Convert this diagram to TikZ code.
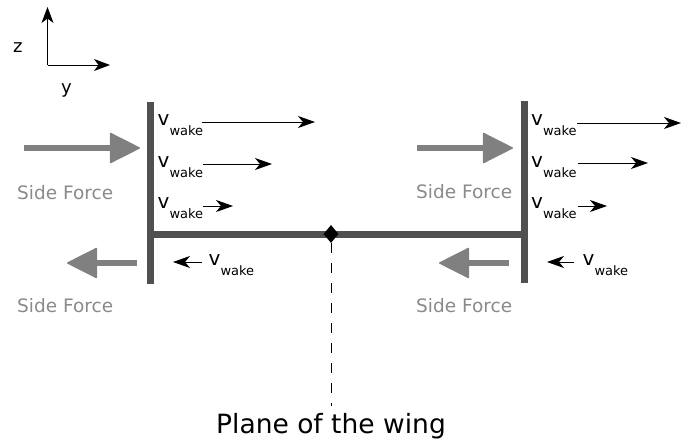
\documentclass[tikz,border=0pt]{standalone}
\usepackage{fontspec}
\setmainfont{DejaVu Sans}
\usetikzlibrary{arrows.meta,shapes.geometric}

\definecolor{barcol}{HTML}{505050}
\definecolor{forcecol}{HTML}{808080}
\definecolor{labelcol}{HTML}{8A8A8A}

% velocity label: v with the subscript "wake"
\newcommand{\vwake}{v\raisebox{-10pt}{\fontsize{13}{13}\selectfont wake}}

\tikzset{
  wingbar/.style={draw=barcol, line width=7pt, line cap=butt},
  force/.style={draw=forcecol, line width=6pt,
    -{Triangle[length=31pt,width=31pt,line width=1.5pt,round]}},
  flow/.style={draw=black, line width=1pt,
    -{Stealth[length=17pt,width=12pt,inset=5pt]}},
  axis/.style={draw=black, line width=1pt,
    -{Stealth[length=16pt,width=12pt,inset=4.5pt]}},
  vlabel/.style={inner sep=0pt, anchor=base west, font=\fontsize{20}{20}\selectfont},
  forcelabel/.style={inner sep=0pt, anchor=base west, text=labelcol,
    font=\fontsize{18.5}{18.5}\selectfont},
  axislabel/.style={inner sep=0pt, anchor=base west, font=\fontsize{18}{18}\selectfont},
  planeline/.style={draw=black, line width=1pt, dash pattern=on 10pt off 10pt},
}

\begin{document}
\begin{tikzpicture}[x=1pt, y=-1pt]
\path[use as bounding box] (0,0) rectangle (681,442);

% coordinate axes
\coordinate (o) at (47.5,65);
\coordinate (zt) at (47.5,7);
\coordinate (yt) at (110,65);
\draw[axis] (o) -- (zt);
\draw[axis] (o) -- (yt);
\node[axislabel] (zl) at (13,52) {z};
\node[axislabel] (yl) at (61,93) {y};

% wing and winglets
\coordinate (lt) at (150,102);
\coordinate (lb) at (150,284);
\coordinate (rt) at (524,101);
\coordinate (rb) at (524,283);
\coordinate (lm) at (150,234);
\coordinate (rm) at (524,234);
\draw[wingbar] (lt) -- (lb);
\draw[wingbar] (rt) -- (rb);
\draw[wingbar] (lm) -- (rm);

% centre of the wing and its plane
\node[diamond, fill=black, inner sep=0pt, minimum width=15pt, minimum height=18pt]
  (hub) at (331,234) {};
\coordinate (pe) at (331,406);
\draw[planeline] (hub.south) -- (pe);
\node[inner sep=0pt, anchor=base, font=\fontsize{26.5}{26.5}\selectfont]
  (plane) at (331,433) {Plane of the wing};

% side forces, left winglet
\coordinate (fa1) at (24,148);  \coordinate (fb1) at (140,148);
\coordinate (fa2) at (137,263); \coordinate (fb2) at (67,263);
\draw[force] (fa1) -- (fb1);
\draw[force] (fa2) -- (fb2);
\node[forcelabel] (sf1) at (17,199) {Side Force};
\node[forcelabel] (sf2) at (17,312) {Side Force};

% side forces, right winglet
\coordinate (fa3) at (417,148); \coordinate (fb3) at (513,148);
\coordinate (fa4) at (509,263); \coordinate (fb4) at (439,263);
\draw[force] (fa3) -- (fb3);
\draw[force] (fa4) -- (fb4);
\node[forcelabel] (sf3) at (416,198) {Side Force};
\node[forcelabel] (sf4) at (416,312) {Side Force};

% wake velocities, left winglet
\node[vlabel] (lv1) at (157.5,125) {\vwake};
\node[vlabel] (lv2) at (157.5,167) {\vwake};
\node[vlabel] (lv3) at (157.5,208) {\vwake};
\node[vlabel] (lv4) at (208.5,265) {\vwake};
\coordinate (la1) at (202,122); \coordinate (lb1) at (315,122);
\coordinate (la2) at (203,164); \coordinate (lb2) at (272,164);
\coordinate (la3) at (203,206); \coordinate (lb3) at (233,206);
\coordinate (la4) at (202,262); \coordinate (lb4) at (173,262);
\draw[flow] (la1) -- (lb1);
\draw[flow] (la2) -- (lb2);
\draw[flow] (la3) -- (lb3);
\draw[flow] (la4) -- (lb4);

% wake velocities, right winglet
\node[vlabel] (rv1) at (531,125) {\vwake};
\node[vlabel] (rv2) at (531,167) {\vwake};
\node[vlabel] (rv3) at (531,208) {\vwake};
\node[vlabel] (rv4) at (582.5,265) {\vwake};
\coordinate (ra1) at (577,123); \coordinate (rb1) at (681,123);
\coordinate (ra2) at (578,163); \coordinate (rb2) at (648,163);
\coordinate (ra3) at (578,206); \coordinate (rb3) at (607,206);
\coordinate (ra4) at (574,262); \coordinate (rb4) at (547,262);
\draw[flow] (ra1) -- (rb1);
\draw[flow] (ra2) -- (rb2);
\draw[flow] (ra3) -- (rb3);
\draw[flow] (ra4) -- (rb4);
\end{tikzpicture}
\end{document}
